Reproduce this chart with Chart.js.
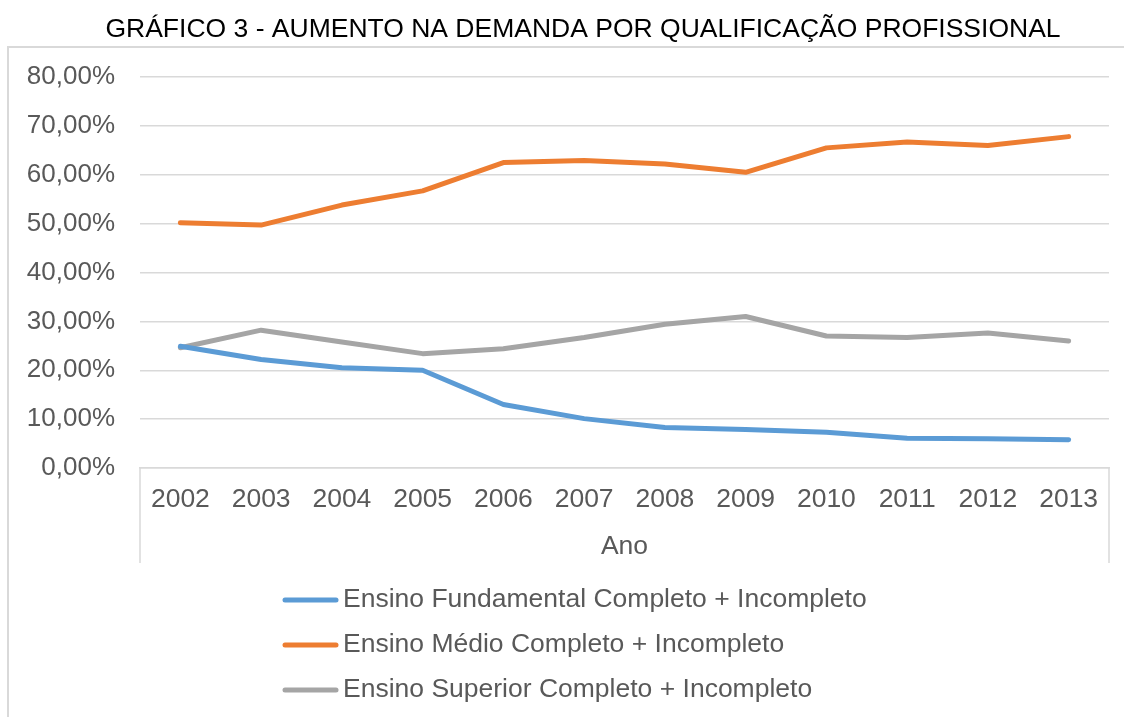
<!DOCTYPE html>
<html>
<head>
<meta charset="utf-8">
<script src="https://cdn.jsdelivr.net/npm/chart.js@4"></script>
<style>
  html, body { margin: 0; padding: 0; background: #fff; }
  #wrap { position: relative; width: 1124px; height: 717px; overflow: hidden; }
  #frame { position: absolute; left: 7px; top: 46px; width: 1300px; height: 900px; border: 2px solid #d9d9d9; box-sizing: border-box; }
  canvas { position: absolute; left: 0; top: 0; }
</style>
</head>
<body>
<div id="wrap">
  <div id="frame"></div>
  <canvas id="myChart" width="1124" height="717"></canvas>
</div>
<script>
// data (percent)
const years = ['2002', '2003', '2004', '2005', '2006', '2007', '2008', '2009', '2010', '2011', '2012', '2013'];
const fundamental = [24.9, 22.2, 20.5, 20.0, 13.0, 10.1, 8.3, 7.9, 7.3, 6.1, 6.0, 5.8];
const medio = [50.2, 49.7, 53.8, 56.7, 62.5, 62.9, 62.2, 60.5, 65.5, 66.7, 66.0, 67.8];
const superior = [24.6, 28.2, 25.8, 23.4, 24.4, 26.7, 29.4, 31.0, 27.0, 26.7, 27.6, 26.0];

const seriesNames = [
    'Ensino Fundamental Completo + Incompleto',
    'Ensino Médio Completo + Incompleto',
    'Ensino Superior Completo + Incompleto'
];
const seriesColors = ['#5b9bd5', '#ed7d31', '#a5a5a5'];
const chartTitle = 'GRÁFICO 3 - AUMENTO NA DEMANDA POR QUALIFICAÇÃO PROFISSIONAL';

const FONT = '"Liberation Sans", Arial, sans-serif';
const GREY_TEXT = '#595959';
const GRID = '#d9d9d9';

// title, box lines round the category labels, legend list
const extrasPlugin = {
    id: 'extras',
    afterDraw(chart) {
        const ctx = chart.ctx;
        const area = chart.chartArea;
        const x = chart.scales.x;

        ctx.save();
        ctx.font = '26.5px ' + FONT;
        ctx.fillStyle = '#000';
        ctx.textAlign = 'center';
        ctx.textBaseline = 'middle';
        ctx.fillText(chartTitle, 583, 30);

        ctx.strokeStyle = GRID;
        ctx.lineWidth = 1.5;
        ctx.beginPath();
        ctx.moveTo(area.left, area.bottom);
        ctx.lineTo(area.left, x.bottom - 15);
        ctx.moveTo(area.right, area.bottom);
        ctx.lineTo(area.right, x.bottom - 15);
        ctx.stroke();

        // legend, one item per row
        ctx.textAlign = 'left';
        chart.data.datasets.forEach((ds, i) => {
            const y = x.bottom + 22 + i * 45;
            ctx.strokeStyle = ds.borderColor;
            ctx.lineWidth = 5;
            ctx.lineCap = 'round';
            ctx.beginPath();
            ctx.moveTo(285, y);
            ctx.lineTo(336, y);
            ctx.stroke();
            ctx.fillStyle = GREY_TEXT;
            ctx.fillText(ds.label, 343, y);
        });
        ctx.restore();
    }
};

const ctx = document.getElementById('myChart').getContext('2d');

new Chart(ctx, {
    type: 'line',
    data: {
        labels: years,
        datasets: [fundamental, medio, superior].map((d, i) => ({
            label: seriesNames[i],
            data: d,
            borderColor: seriesColors[i],
            backgroundColor: seriesColors[i],
            borderWidth: 5,
            borderCapStyle: 'round',
            borderJoinStyle: 'round',
            pointRadius: 0,
            tension: 0
        }))
    },
    options: {
        responsive: false,
        animation: false,
        layout: {
            padding: { left: 0, right: 15, top: 77, bottom: 139 }
        },
        plugins: {
            legend: { display: false },
            tooltip: { enabled: false },
            title: { display: false }
        },
        scales: {
            x: {
                offset: true,
                grid: { display: false, drawTicks: false },
                border: { display: true, color: GRID, width: 1.5 },
                ticks: {
                    color: GREY_TEXT,
                    font: { family: FONT, size: 26.5 },
                    padding: 16,
                    maxRotation: 0
                },
                title: {
                    display: true,
                    text: 'Ano',
                    color: GREY_TEXT,
                    font: { family: FONT, size: 26.5 },
                    padding: { top: 0, bottom: 15 }
                },
                afterFit: s => { s.height = 110; }
            },
            y: {
                min: 0,
                max: 80,
                grid: { color: GRID, lineWidth: 1.5, drawTicks: false },
                border: { display: false },
                ticks: {
                    stepSize: 10,
                    color: GREY_TEXT,
                    font: { family: FONT, size: 26 },
                    padding: 25,
                    callback: v => v.toFixed(2).replace('.', ',') + '%'
                },
                afterFit: s => { s.width = 140; }
            }
        }
    },
    plugins: [extrasPlugin]
});
</script>
</body>
</html>
